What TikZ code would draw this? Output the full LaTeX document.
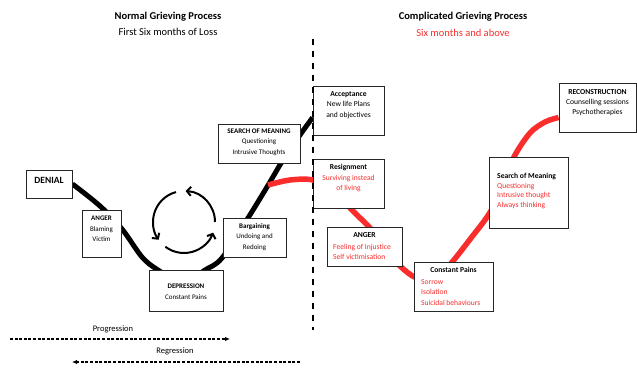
\documentclass[tikz,border=0pt]{standalone}
\usepackage{fontspec}
\setmainfont{Carlito}
\usetikzlibrary{arrows.meta,backgrounds}
\definecolor{gred}{RGB}{250,45,45}
\begin{document}
\begin{tikzpicture}[x=1pt,y=-1pt,
  box/.style={draw=black!85, line width=0.8pt, fill=white, inner sep=0pt},
  txt/.style={inner sep=0pt, align=center, font=\fontsize{7}{10.5}\selectfont},
  rtxt/.style={inner sep=0pt, align=left, font=\fontsize{7.6}{10.2}\selectfont},
  ttl/.style={inner sep=0pt, font=\fontsize{10.5}{12}\selectfont},
  lbl/.style={inner sep=0pt, font=\fontsize{8.5}{10}\selectfont},
  blackcurve/.style={line width=5pt, black},
  redcurve/.style={line width=5.5pt, gred},
  divider/.style={line width=2pt, dash pattern=on 6pt off 6pt},
  dasharrow/.style={line width=1.1pt, dash pattern=on 3pt off 1.6pt, -{Latex[length=5pt,width=4.5pt]}},
  circarrow/.style={line width=2pt, -{Straight Barb[length=4pt,width=9pt]}}
]
\useasboundingbox (0,0) rectangle (637,367);

% titles
\node[ttl] (t1) at (168,17) {\textbf{Normal Grieving Process}};
\node[ttl] (t2) at (168,32) {First Six months of Loss};
\node[ttl] (t3) at (463,17) {\textbf{Complicated Grieving Process}};
\node[ttl, text=gred] (t4) at (463,33) {Six months and above};

% boxes
\node[box, minimum width=46pt, minimum height=28pt] (denial) at (49,184) {};
\node[box, minimum width=39pt, minimum height=47pt] (angerL) at (101.5,233.5) {};
\node[box, minimum width=74pt, minimum height=41pt] (depr) at (186,290.5) {};
\node[box, minimum width=63pt, minimum height=39pt] (barg) at (254.5,237.5) {};
\node[box, minimum width=82pt, minimum height=39pt] (searchL) at (259,143.5) {};
\node[box, minimum width=71pt, minimum height=49pt] (accept) at (348.5,110.5) {};
\node[box, minimum width=71pt, minimum height=49pt] (resign) at (348.5,183.5) {};
\node[box, minimum width=75pt, minimum height=39pt] (angerR) at (364.5,246.5) {};
\node[box, minimum width=79pt, minimum height=49pt] (pains) at (453.5,286.5) {};
\node[box, minimum width=79pt, minimum height=71pt] (searchR) at (528.5,192.5) {};
\node[box, minimum width=77pt, minimum height=49pt] (recon) at (597.5,107.5) {};

% box texts
\node[inner sep=0pt, font=\fontsize{9.5}{11}\selectfont] (denialT) at (49,180) {\textbf{DENIAL}};
\node[txt] (angerLT) at (101.5,229) {\textbf{ANGER}\\Blaming\\Victim};
\node[txt] (deprT) at (186,291.5) {\textbf{DEPRESSION}\\Constant Pains};
\node[txt] (bargT) at (254.5,237) {\textbf{Bargaining}\\Undoing and\\Redoing};
\node[txt] (searchLT) at (259,142) {\textbf{SEARCH OF MEANING}\\Questioning\\Intrusive Thoughts};
\node[rtxt, align=center] (acceptT) at (348.5,105) {\textbf{Acceptance}\\New life Plans\\and objectives};
\node[rtxt, align=center] (resignT) at (348.5,178) {\textbf{Resignment}\\\textcolor{gred}{Surviving instead}\\\textcolor{gred}{of living}};
\node[rtxt] (angerRH) at (364.5,235) {\textbf{ANGER}};
\node[rtxt, anchor=west] (angerRT) at (333,252) {\textcolor{gred}{Feeling of Injustice}\\\textcolor{gred}{Self victimisation}};
\node[rtxt] (painsH) at (453.5,270) {\textbf{Constant Pains}};
\node[rtxt, anchor=west] (painsT) at (421,292.5) {\textcolor{gred}{Sorrow}\\\textcolor{gred}{Isolation}\\\textcolor{gred}{Suicidal behaviours}};
\node[rtxt, anchor=west, font=\fontsize{7.6}{9.5}\selectfont] (searchRT) at (497,191) {\textbf{Search of Meaning}\\\textcolor{gred}{Questioning}\\\textcolor{gred}{Intrusive thought}\\\textcolor{gred}{Always thinking}};
\node[rtxt, align=center] (reconT) at (597.5,102.5) {\textbf{RECONSTRUCTION}\\Counselling sessions\\Psychotherapies};

% curves behind the boxes
\coordinate (rstart) at (268,185);
\begin{pgfonlayer}{background}
\draw[blackcurve] plot[smooth, tension=0.55] coordinates {(denial.east) (100,206) (122,229) (142,257) (158,270) (183,283) (205,270) (222,258) (248,218) (267,187) (283,160) (300,135) ([yshift=-7pt]accept.west)};
\draw[redcurve] plot[smooth, tension=0.55] coordinates {(rstart) (290,180) (313,180) (335,190) (351,209) (370,228) (387,250) (400,266) (417,278) (438,277) (453,261) (471,238) (489,214) (503,187) (514,157) (530,133) (545,122) ([yshift=-10pt]recon.west)};
\end{pgfonlayer}

% divider
\coordinate (d1) at (312.5,39);
\coordinate (d2) at (312.5,330);
\draw[divider] (d1) -- (d2);

% cycle arrows
\coordinate (cc) at (184,222);
\draw[circarrow] (cc) ++(0:31) arc[start angle=0, end angle=-87, radius=31];
\draw[circarrow] (cc) ++(-105:31) arc[start angle=-105, end angle=-215, radius=31];
\draw[circarrow] (cc) ++(-233:31) arc[start angle=-233, end angle=-340, radius=31];

% progression / regression
\node[lbl] (prog) at (113,329) {Progression};
\coordinate (p1) at (10,339);
\coordinate (p2) at (230,339);
\draw[dasharrow] (p1) -- (p2);
\node[lbl] (regr) at (175,351) {Regression};
\coordinate (r1) at (300,362);
\coordinate (r2) at (72,362);
\draw[dasharrow] (r1) -- (r2);
\end{tikzpicture}
\end{document}
